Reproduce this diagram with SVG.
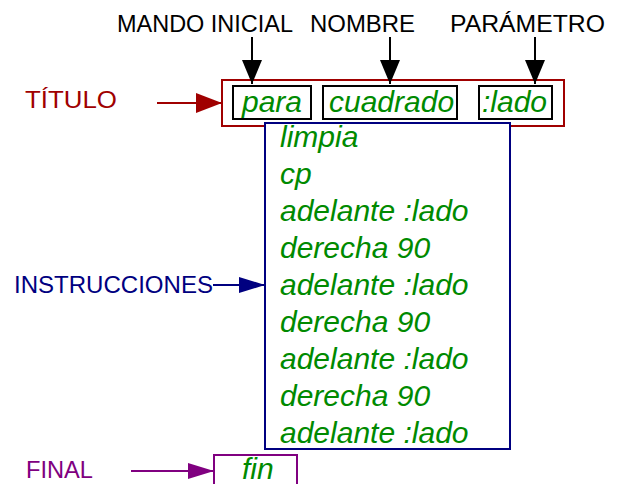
<svg xmlns="http://www.w3.org/2000/svg" width="628" height="484" viewBox="0 0 628 484">
<defs>
<style>
.lbl{font-family:"Liberation Sans",Arial,sans-serif;font-size:24px}
.code{font-family:"Liberation Sans",Arial,sans-serif;font-size:30px;font-style:italic;fill:#008a00}
.box{fill:#fff;stroke-width:2}
</style>
<marker id="hk" markerUnits="userSpaceOnUse" markerWidth="24" markerHeight="20" viewBox="0 0 24 20" refX="24" refY="10" orient="auto"><path d="M0,0L24,10L0,20Z" fill="#000"/></marker>
<marker id="hr" markerUnits="userSpaceOnUse" markerWidth="26" markerHeight="20" viewBox="0 0 26 20" refX="26" refY="10" orient="auto"><path d="M0,0L26,10L0,20Z" fill="#a00000"/></marker>
<marker id="hb" markerUnits="userSpaceOnUse" markerWidth="26" markerHeight="16" viewBox="0 0 26 16" refX="26" refY="8" orient="auto"><path d="M0,0L26,8L0,16Z" fill="#000080"/></marker>
<marker id="hp" markerUnits="userSpaceOnUse" markerWidth="26" markerHeight="16" viewBox="0 0 26 16" refX="26" refY="8" orient="auto"><path d="M0,0L26,8L0,16Z" fill="#800080"/></marker>
</defs>
<rect width="628" height="484" fill="#fff"/>
<g id="labels">
<text class="lbl" x="117" y="32" textLength="176" lengthAdjust="spacingAndGlyphs">MANDO INICIAL</text>
<text class="lbl" x="310" y="32" textLength="105" lengthAdjust="spacingAndGlyphs">NOMBRE</text>
<text class="lbl" x="450" y="32" textLength="155" lengthAdjust="spacingAndGlyphs">PARÁMETRO</text>
<text class="lbl" x="25" y="108" fill="#a00000" textLength="92" lengthAdjust="spacingAndGlyphs">TÍTULO</text>
<text class="lbl" x="14" y="293" fill="#000080" textLength="199" lengthAdjust="spacingAndGlyphs">INSTRUCCIONES</text>
<text class="lbl" x="26" y="478" fill="#800080" textLength="67" lengthAdjust="spacingAndGlyphs">FINAL</text>
</g>
<g id="titulo">
<rect class="box" x="222" y="80" width="342" height="46" stroke="#a00000"/>
</g>
<g id="instrucciones">
<rect class="box" x="265" y="123" width="245" height="326" stroke="#000080" fill="none"/>
<text class="code" x="280" y="147">limpia</text>
<text class="code" x="280" y="184">cp</text>
<text class="code" x="280" y="221">adelante :lado</text>
<text class="code" x="280" y="258">derecha 90</text>
<text class="code" x="280" y="295">adelante :lado</text>
<text class="code" x="280" y="332">derecha 90</text>
<text class="code" x="280" y="369">adelante :lado</text>
<text class="code" x="280" y="406">derecha 90</text>
<text class="code" x="280" y="443">adelante :lado</text>
</g>
<g id="para">
<rect class="box" x="233" y="86" width="78" height="33" stroke="#000"/>
<text class="code" x="242" y="112">para</text>
</g>
<g id="cuadrado">
<rect class="box" x="323" y="86" width="134" height="33" stroke="#000"/>
<text class="code" x="329" y="112">cuadrado</text>
</g>
<g id="lado">
<rect class="box" x="479" y="86" width="73" height="33" stroke="#000"/>
<text class="code" x="482" y="112">:lado</text>
</g>
<g id="fin">
<rect class="box" x="214" y="455" width="83" height="40" stroke="#800080"/>
<text class="code" x="242" y="479">fin</text>
</g>
<g id="connectors" stroke-width="2" fill="none">
<line x1="252" y1="37" x2="252" y2="84" stroke="#000" marker-end="url(#hk)"/>
<line x1="390" y1="37" x2="390" y2="84" stroke="#000" marker-end="url(#hk)"/>
<line x1="535" y1="37" x2="535" y2="84" stroke="#000" marker-end="url(#hk)"/>
<line x1="157" y1="103" x2="222" y2="103" stroke="#a00000" marker-end="url(#hr)"/>
<line x1="213" y1="285" x2="265" y2="285" stroke="#000080" marker-end="url(#hb)"/>
<line x1="131" y1="471" x2="214" y2="471" stroke="#800080" marker-end="url(#hp)"/>
</g>
</svg>
